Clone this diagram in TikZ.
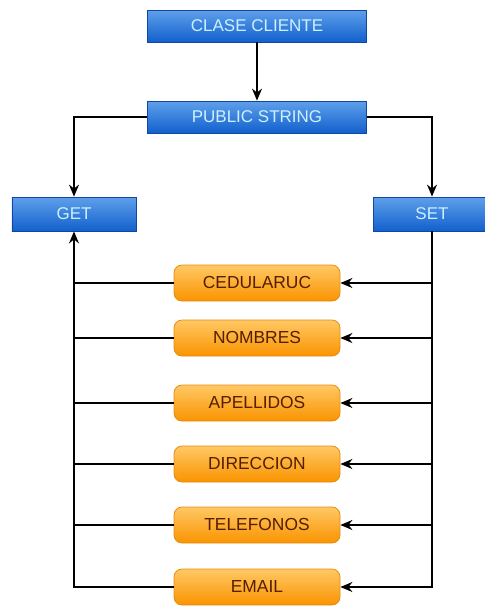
\documentclass[tikz,border=0pt]{standalone}
\usepackage{fontspec}
\setmainfont{Liberation Sans}
\usetikzlibrary{%
	arrows.meta,%
	positioning,%
}
\definecolor{cblue}{RGB}{18, 96, 205}
\definecolor{cbluelight}{RGB}{95, 160, 235}
\definecolor{cbluedark}{RGB}{20, 70, 160}
\definecolor{cbluetext}{RGB}{205, 240, 255}
\definecolor{corange}{RGB}{250, 148, 0}
\definecolor{corangelight}{RGB}{255, 200, 100}
\definecolor{corangedark}{RGB}{230, 140, 20}
\definecolor{cbrowntext}{RGB}{85, 30, 0}
\tikzset{
	>={Stealth[length=6pt, width=5pt]},%
	classnode/.style={%
			draw=cbluedark,%
			rectangle,%
			top color=cbluelight,%
			bottom color=cblue,%
			text=cbluetext,%
			font={\fontsize{8.5}{10}\selectfont},%
			minimum height=16pt,%
			inner sep=0},%
	attrnode/.style={%
			draw=corangedark,%
			rectangle,%
			rounded corners=4pt,%
			top color=corangelight,%
			bottom color=corange,%
			text=cbrowntext,%
			font={\fontsize{8.7}{10}\selectfont},%
			minimum width=83pt,%
			minimum height=18pt,%
			inner sep=0},%
	link/.style={->, line width=0.7pt},%
}

\begin{document}
\begin{tikzpicture}[x=0.5pt, y=-0.5pt]
	\useasboundingbox (0,0) rectangle (485,607);

	\node[classnode, minimum width=109.5pt] (clase) at (257,26) {CLASE CLIENTE};
	\node[classnode, minimum width=109.5pt] (public) at (257,117) {PUBLIC STRING};
	\node[classnode, minimum width=62pt, minimum height=17pt] (get) at (74,214) {GET};
	\node[classnode, minimum width=59pt, minimum height=17pt] (set) at (432,214) {SET};

	\node[attrnode] (ced) at (257,283) {CEDULARUC};
	\node[attrnode] (nom) at (257,338) {NOMBRES};
	\node[attrnode] (ape) at (257,403) {APELLIDOS};
	\node[attrnode] (dir) at (257,464) {DIRECCION};
	\node[attrnode] (tel) at (257,525) {TELEFONOS};
	\node[attrnode] (email) at (257,587) {EMAIL};

	\draw[link] (clase) -- (public);
	\draw[link] (public.west) -| (get.north);
	\draw[link] (public.east) -| (set.north);

	% setters on the right
	\draw[link] (set.south) |- (email.east);
	\foreach \attr in {ced,nom,ape,dir,tel}
		\draw[link] (set.south |- \attr.east) -- (\attr.east);

	% getters on the left
	\draw[link] (email.west) -| (get.south);
	\foreach \attr in {ced,nom,ape,dir,tel}
		\draw[line width=0.7pt] (\attr.west) -- (get.south |- \attr.west);
\end{tikzpicture}
\end{document}
